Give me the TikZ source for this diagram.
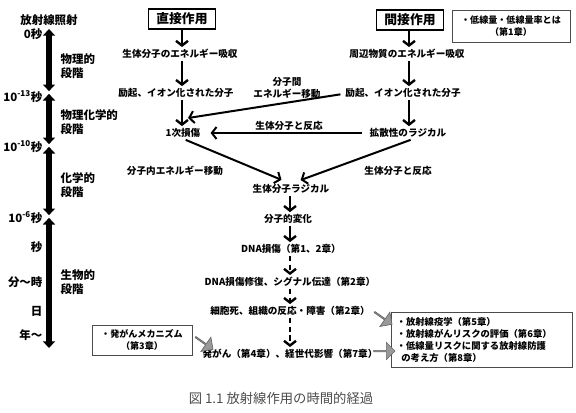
\documentclass[tikz,border=0pt]{standalone}
\usepackage{fontspec}
\setmainfont{Noto Sans CJK JP}
\usetikzlibrary{arrows.meta}
\usetikzlibrary{shapes.arrows}

\tikzset{
	lbl/.style={font=\bfseries\fontsize{7.2}{9}\selectfont, inner sep=1.5pt},
	axlbl/.style={font=\bfseries\fontsize{8.6}{11}\selectfont, inner sep=1pt},
	head/.style={draw, line width=1.1pt, minimum width=50pt, minimum height=15pt,
		inner sep=0pt, font=\bfseries\fontsize{9.6}{11}\selectfont},
	note/.style={draw=black!70, line width=0.6pt, align=center, inner sep=0pt,
		font=\bfseries\fontsize{6.8}{9}\selectfont},
	flow/.style={line width=1.8pt, -{Straight Barb[length=3.5pt,width=9pt]}},
	seg/.style={line width=4pt, {Triangle[length=5pt,width=9pt]}-{Triangle[length=5pt,width=9pt]}},
	blk/.style={single arrow, draw=black!60, fill=black!40, line width=0.5pt,
		minimum height=16pt, minimum width=13pt, single arrow head extend=3pt, inner sep=0pt}
}

\begin{document}
\begin{tikzpicture}[x=0.75pt,y=-0.75pt]
	\useasboundingbox (0,0) rectangle (576,412);

	%% time axis on the left
	\node[axlbl] (irr) at (49,20) {放射線照射};
	\node[axlbl, anchor=east] (t0) at (44,34) {0秒};
	\node[axlbl, anchor=east] (t13) at (44,97) {10\textsuperscript{-13}秒};
	\node[axlbl, anchor=east] (t10) at (44,147) {10\textsuperscript{-10}秒};
	\node[axlbl, anchor=east] (t6) at (44,218) {10\textsuperscript{-6}秒};
	\node[axlbl, anchor=east] (tsec) at (44,247) {秒};
	\node[axlbl, anchor=east] (thr) at (44,282) {分～時};
	\node[axlbl, anchor=east] (tday) at (44,311) {日};
	\node[axlbl, anchor=east] (tyr) at (44,335) {年～};
	\coordinate (s0) at (49,29);
	\coordinate (s13) at (49,92.5);
	\coordinate (s10) at (49,145.5);
	\coordinate (s6) at (49,216.5);
	\coordinate (send) at (49,348);
	\draw[seg] (s0) -- ([yshift=1pt]s13);
	\draw[seg] ([yshift=-1pt]s13) -- ([yshift=1pt]s10);
	\draw[seg] ([yshift=-1pt]s10) -- ([yshift=1pt]s6);
	\draw[seg] ([yshift=-1pt]s6) -- (send);
	\node[axlbl, align=left, anchor=west] (ph1) at (59,66) {物理的\\段階};
	\node[axlbl, align=left, anchor=west] (ph2) at (59,122) {物理化学的\\段階};
	\node[axlbl, align=left, anchor=west] (ph3) at (59,185) {化学的\\段階};
	\node[axlbl, align=left, anchor=west] (ph4) at (59,282) {生物的\\段階};

	%% direct and indirect action
	\coordinate (colA) at (182,0);
	\coordinate (colB) at (409,0);
	\node[head] (dir) at (182,19) {直接作用};
	\node[head] (ind) at (410,20) {間接作用};
	\node[note, minimum width=88.5pt, minimum height=24pt] (dose) at (511,26)
		{・低線量・低線量率とは\\（第1章）};

	\node[lbl] (absA) at (180,54) {生体分子のエネルギー吸収};
	\node[lbl] (excA) at (176,93) {励起、イオン化された分子};
	\node[lbl] (prim) at (183,133) {1次損傷};
	\node[lbl] (absB) at (407,54) {周辺物質のエネルギー吸収};
	\node[lbl] (excB) at (403,93) {励起、イオン化された分子};
	\node[lbl] (diff) at (408,133) {拡散性のラジカル};

	\draw[flow] (dir.south -| colA) -- (absA.north -| colA);
	\draw[flow] (absA.south -| colA) -- (excA.north -| colA);
	\draw[flow] (excA.south -| colA) -- (prim.north -| colA);
	\draw[flow] (ind.south -| colB) -- (absB.north -| colB);
	\draw[flow] (absB.south -| colB) -- (excB.north -| colB);
	\draw[flow] (excB.south -| colB) -- (diff.north -| colB);

	\node[lbl, align=center] (inter) at (287,88) {分子間\\エネルギー移動};
	\coordinate (hit) at (188,118);
	\draw[flow, line width=1.5pt] ([xshift=-2pt,yshift=-1pt]excB.west) -- (hit);
	\node[lbl] (react1) at (289,126) {生体分子と反応};
	\draw[flow, line width=1.5pt] ([xshift=-4pt]diff.west) -- ([xshift=6pt]prim.east);

	%% common path to the biological effects
	\node[lbl] (intra) at (175,171) {分子内エネルギー移動};
	\node[lbl] (react2) at (398,171) {生体分子と反応};
	\node[lbl] (rad) at (291,189) {生体分子ラジカル};
	\draw[flow, line width=1.5pt, shorten >=4.5pt] ([xshift=2pt]prim.south) -- ([xshift=-3pt]rad.north);
	\draw[flow, line width=1.5pt, shorten >=4.5pt] ([xshift=2pt]diff.south) -- ([xshift=3pt]rad.north);

	\coordinate (colC) at (290,0);
	\node[lbl] (mol) at (288,219) {分子的変化};
	\node[lbl] (dna) at (291,249) {DNA損傷（第1、2章）};
	\node[lbl] (rep) at (290,282) {DNA損傷修復、シグナル伝達（第2章）};
	\node[lbl] (death) at (290,311) {細胞死、組織の反応・障害（第2章）};
	\node[lbl] (canc) at (290,354) {発がん（第4章）、経世代影響（第7章）};
	\draw[flow] (rad.south -| colC) -- (mol.north -| colC);
	\draw[flow] (mol.south -| colC) -- (dna.north -| colC);
	\draw[flow, dash pattern=on 4pt off 2.5pt] (dna.south -| colC) -- (rep.north -| colC);
	\draw[flow, dash pattern=on 4pt off 2.5pt] (rep.south -| colC) -- (death.north -| colC);
	\draw[flow, dash pattern=on 4pt off 2.5pt] (death.south -| colC) -- (canc.north -| colC);

	%% side notes
	\node[note, minimum width=75pt, minimum height=22.5pt] (mech) at (142,340)
		{・発がんメカニズム\\（第3章）};
	\node[note, align=left, text width=128pt, minimum height=41pt, inner xsep=4pt,
		font=\bfseries\fontsize{7}{8.8}\selectfont] (risk) at (482,340)
		{・放射線疫学（第5章）\\・放射線がんリスクの評価（第6章）\\・低線量リスクに関する放射線防護\\\ \,の考え方（第8章）};
	\node[blk, rotate=-35] (g1) at (204,343) {};
	\node[blk, rotate=-35] (g2) at (383,318) {};
	\node[blk] (g3) at (384,351) {};

	\node[font=\fontsize{10}{12}\selectfont, text=black!70] (cap) at (281,398)
		{図 1.1 放射線作用の時間的経過};
\end{tikzpicture}
\end{document}
